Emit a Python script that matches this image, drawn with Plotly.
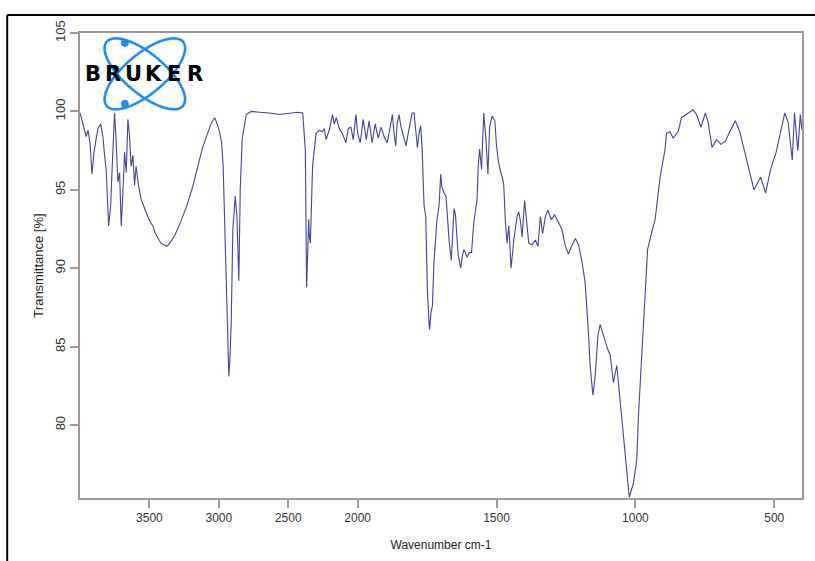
import numpy as np
import plotly.graph_objects as go

# ---- data (wavenumber cm-1, transmittance %) ----
wavenumber = [
    4000, 3978, 3955, 3942, 3928, 3914, 3899, 3883, 3871, 3851, 3835, 3823, 3811, 3794,
    3779, 3768, 3751, 3739, 3727, 3715, 3703, 3691, 3679, 3667, 3655, 3643, 3632, 3619,
    3607, 3596, 3579, 3560, 3535, 3512, 3490, 3476, 3461, 3439, 3418, 3397, 3375, 3353,
    3317, 3282, 3234, 3188, 3153, 3117, 3081, 3052, 3030, 3016, 2995, 2980, 2969, 2959,
    2942, 2934, 2928, 2919, 2911, 2899, 2882, 2870, 2862, 2856, 2846, 2832, 2803, 2767,
    2707, 2636, 2564, 2492, 2434, 2396, 2377, 2368, 2360, 2353, 2348, 2341, 2325, 2300,
    2276, 2253, 2241, 2228, 2205, 2181, 2169, 2154, 2133, 2111, 2085, 2068, 2049, 2032,
    2013, 2000, 1991, 1980, 1969, 1959, 1948, 1937, 1926, 1916, 1905, 1894, 1883, 1875,
    1869, 1863, 1858, 1851, 1844, 1833, 1826, 1819, 1811, 1804, 1797, 1792, 1785, 1779,
    1773, 1768, 1765, 1761, 1755, 1749, 1743, 1741, 1736, 1731, 1725, 1719, 1715, 1707,
    1701, 1697, 1689, 1682, 1677, 1671, 1663, 1659, 1653, 1648, 1643, 1638, 1629, 1623,
    1617, 1612, 1606, 1598, 1590, 1582, 1570, 1566, 1561, 1554, 1549, 1546, 1542, 1538,
    1531, 1525, 1516, 1506, 1500, 1494, 1486, 1479, 1474, 1468, 1462, 1456, 1451, 1448,
    1442, 1438, 1426, 1420, 1414, 1408, 1399, 1392, 1384, 1372, 1360, 1351, 1342, 1334,
    1324, 1315, 1303, 1291, 1279, 1265, 1252, 1241, 1230, 1216, 1205, 1193, 1181, 1175,
    1169, 1163, 1153, 1145, 1135, 1127, 1115, 1099, 1091, 1079, 1067, 1059, 1043, 1031,
    1022, 1007, 995, 989, 977, 968, 956, 941, 929, 911, 893, 888, 876, 864, 846, 834,
    816, 792, 780, 764, 748, 738, 724, 708, 692, 676, 660, 640, 624, 606, 588, 573, 549,
    531, 513, 493, 477, 462, 450, 435, 427, 415, 406, 400,
]
transmittance = [
    99.9, 99.2, 98.4, 98.8, 98.0, 96.0, 97.4, 98.3, 98.9, 99.2, 98.4, 97.2, 96.2, 92.7,
    94.0, 96.5, 99.9, 98.0, 95.5, 96.1, 92.7, 94.8, 97.4, 96.1, 99.5, 98.4, 96.5, 97.2,
    95.3, 96.5, 95.3, 94.4, 93.8, 93.3, 92.9, 92.7, 92.3, 91.9, 91.6, 91.5, 91.4, 91.6,
    92.1, 92.8, 93.9, 95.2, 96.5, 97.7, 98.6, 99.3, 99.6, 99.3, 98.7, 98.0, 96.5, 92.9,
    88.6, 85.5, 83.1, 84.5, 86.5, 92.5, 94.6, 93.3, 91.0, 89.2, 95.0, 98.2, 99.8, 100.0,
    99.95, 99.9, 99.8, 99.9, 99.95, 99.9, 97.5, 88.8, 90.5, 93.1, 92.0, 91.6, 96.5, 98.6,
    98.8, 98.7, 98.9, 98.2, 98.8, 99.8, 99.2, 99.6, 98.9, 98.6, 98.0, 98.9, 99.0, 98.2,
    99.8, 98.6, 98.0, 99.5, 98.2, 99.4, 98.0, 99.2, 98.3, 99.0, 98.4, 98.0, 99.0, 99.8,
    98.6, 97.8, 99.2, 99.8, 99.0, 98.3, 97.8, 98.5, 99.3, 99.9, 99.9, 98.8, 97.7, 98.6,
    99.1, 97.6, 96.1, 94.0, 93.3, 88.6, 86.5, 86.1, 87.2, 87.6, 90.5, 92.2, 93.0, 94.0,
    96.0, 95.2, 94.8, 94.6, 93.0, 91.8, 90.5, 92.0, 93.8, 93.4, 92.0, 90.8, 90.0, 90.8,
    91.2, 91.0, 90.7, 91.0, 91.0, 92.9, 94.4, 96.5, 97.6, 96.3, 98.5, 99.9, 99.0, 98.2,
    96.0, 99.0, 99.7, 99.4, 97.8, 96.9, 96.2, 95.8, 95.3, 92.9, 91.6, 92.7, 91.2, 90.0,
    91.0, 91.8, 93.3, 93.6, 93.0, 92.0, 94.3, 93.0, 91.6, 91.5, 91.8, 91.4, 93.3, 92.2,
    93.3, 93.7, 93.1, 93.4, 93.0, 92.5, 91.4, 90.9, 91.4, 91.9, 91.5, 90.5, 89.1, 87.6,
    85.9, 83.8, 81.9, 83.1, 85.7, 86.4, 85.7, 84.8, 84.5, 82.7, 83.8, 82.3, 79.5, 77.2,
    75.4, 76.3, 77.8, 80.6, 84.4, 87.8, 91.2, 92.3, 93.1, 95.8, 97.6, 98.6, 98.7, 98.3,
    98.7, 99.6, 99.8, 100.1, 99.8, 99.0, 99.9, 99.3, 97.7, 98.2, 97.9, 98.1, 98.7, 99.4,
    98.7, 97.3, 96.1, 95.0, 95.8, 94.8, 96.3, 97.4, 98.8, 99.9, 99.3, 96.9, 99.9, 97.5,
    99.8, 98.8,
]
x_tick_values = [3500, 3000, 2500, 2000, 1500, 1000, 500]
y_tick_values = [80, 85, 90, 95, 100, 105]


# Bruker-style compressed axis: above 2000 cm-1 the scale is halved
def to_axis(w):
    w = np.asarray(w, dtype=float)
    return np.where(w > 2000, 2000 + (w - 2000) / 2.0, w)


fig = go.Figure()
fig.add_trace(go.Scatter(
    x=to_axis(wavenumber), y=transmittance, mode="lines",
    line=dict(color="rgba(45,45,155,0.9)", width=1.1),
    hoverinfo="skip", showlegend=False,
))

# plot-area geometry in pixels (815 x 561 canvas)
L, R, T, B = 80, 804, 33, 500
W, H = 815, 561
pw, ph = R - L, B - T


def px(xp):
    return (xp - L) / pw


def py(yp):
    return (B - yp) / ph


shapes = []
# outer black frame (left + top edges visible)
shapes.append(dict(type="line", xref="paper", yref="paper",
                   x0=px(7), x1=px(W + 5), y0=py(15), y1=py(15),
                   line=dict(color="black", width=2)))
shapes.append(dict(type="line", xref="paper", yref="paper",
                   x0=px(7), x1=px(7), y0=py(15), y1=py(H + 5),
                   line=dict(color="black", width=2)))

# Bruker logo: two crossed ellipses
cx, cy, a, b = 145, 74, 50, 20
t = np.linspace(0, 2 * np.pi, 73)
for ang in (np.deg2rad(40), np.deg2rad(-40)):
    ex = cx + a * np.cos(t) * np.cos(ang) - b * np.sin(t) * np.sin(ang)
    ey = cy + a * np.cos(t) * np.sin(ang) + b * np.sin(t) * np.cos(ang)
    path = "M " + " L ".join(f"{px(xx):.5f},{py(yy):.5f}" for xx, yy in zip(ex, ey)) + " Z"
    shapes.append(dict(type="path", xref="paper", yref="paper", path=path,
                       line=dict(color="#1f8ef1", width=2.6)))
for dx, dy in ((125, 43), (125, 104)):
    r = 3.5
    shapes.append(dict(type="circle", xref="paper", yref="paper",
                       x0=px(dx - r), x1=px(dx + r), y0=py(dy + r), y1=py(dy - r),
                       fillcolor="#1f8ef1", line=dict(color="#1f8ef1", width=1)))

annotations = []
letters = "BRUKER"
for i, ch in enumerate(letters):
    annotations.append(dict(
        xref="paper", yref="paper", x=px(93 + i * 20.4), y=py(74),
        text=f"<b>{ch}</b>", showarrow=False, xanchor="center", yanchor="middle",
        font=dict(family="DejaVu Sans", size=21, color="black"),
    ))

fig.update_layout(
    width=W, height=H,
    margin=dict(l=L, r=W - R, t=T, b=H - B),
    paper_bgcolor="white", plot_bgcolor="white",
    shapes=shapes, annotations=annotations,
    xaxis=dict(
        range=[3000, 400],
        tickvals=to_axis(x_tick_values).tolist(),
        ticktext=[str(v) for v in x_tick_values],
        showline=True, mirror=True, linecolor="#9a9a9a", linewidth=1.5,
        ticks="outside", ticklen=8, tickwidth=1.5, tickcolor="#9a9a9a",
        showgrid=False, zeroline=False,
        tickfont=dict(family="Liberation Sans Narrow, Liberation Sans, Arial", size=12, color="#333333"),
        title=dict(text="Wavenumber cm-1", font=dict(family="Liberation Sans Narrow, Liberation Sans, Arial", size=12, color="#222222"), standoff=16),
    ),
    yaxis=dict(
        range=[75.35, 105],
        tickvals=y_tick_values,
        showline=True, mirror=True, linecolor="#9a9a9a", linewidth=1.5,
        ticks="outside", ticklen=8, tickwidth=1.5, tickcolor="#9a9a9a",
        showgrid=False, zeroline=False, tickangle=-90,
        tickfont=dict(family="Liberation Sans, Arial", size=13, color="#333333"),
        title=dict(text="Transmittance [%]", font=dict(family="Liberation Sans, Arial", size=13, color="#222222"), standoff=6),
    ),
)

fig.write_html("out.html")
